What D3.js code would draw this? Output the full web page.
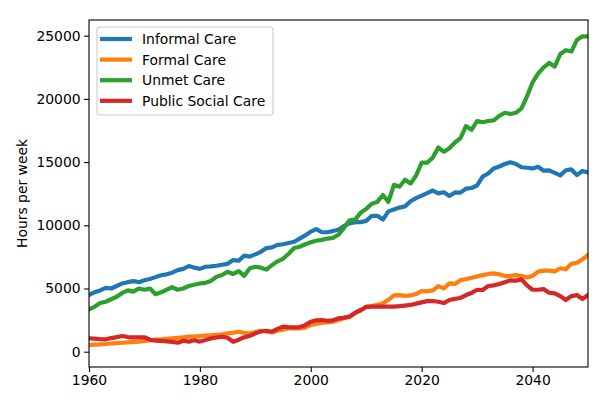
<!DOCTYPE html>
<html>
<head>
<meta charset="utf-8">
<script src="https://cdn.jsdelivr.net/npm/d3@7"></script>
<style>
  body { margin: 0; background: #fff; }
  text { font-family: "DejaVu Sans", sans-serif; }
</style>
</head>
<body>
<div id="chart"></div>
<script>
// yearly series, 1960..2050
var years = d3.range(1960, 2051);

var informalCare = [4500, 4700, 4850, 5050, 5000, 5200, 5400, 5500, 5580, 5500,
  5650, 5750, 5900, 6050, 6120, 6250, 6450, 6550, 6780, 6650,
  6550, 6720, 6750, 6800, 6880, 6950, 7250, 7200, 7600, 7520,
  7700, 7900, 8200, 8250, 8450, 8500, 8600, 8700, 8950, 9200,
  9500, 9700, 9450, 9450, 9550, 9650, 9950, 10150, 10250, 10250,
  10350, 10750, 10750, 10450, 11100, 11250, 11400, 11500, 11900, 12150,
  12350, 12550, 12750, 12530, 12610, 12320, 12600, 12580, 12900, 12950,
  13150, 13850, 14100, 14500, 14650, 14850, 14980, 14850, 14590, 14550,
  14500, 14630, 14320, 14350, 14150, 13950, 14350, 14420, 13980, 14300,
  14180];

var formalCare = [530, 560, 580, 610, 650, 680, 710, 740, 770, 790,
  860, 900, 950, 980, 1020, 1060, 1090, 1140, 1190, 1200,
  1240, 1270, 1300, 1330, 1380, 1450, 1500, 1580, 1500, 1450,
  1550, 1660, 1600, 1530, 1660, 1750, 1850, 1850, 1850, 1900,
  2110, 2200, 2300, 2320, 2370, 2500, 2650, 2750, 3050, 3250,
  3550, 3610, 3700, 3830, 4100, 4450, 4480, 4420, 4450, 4560,
  4800, 4780, 4850, 5180, 5010, 5400, 5360, 5660, 5740, 5850,
  5950, 6060, 6150, 6200, 6120, 5990, 5990, 6070, 5980, 5880,
  5990, 6330, 6410, 6410, 6350, 6600, 6520, 6950, 7040, 7300,
  7650];

var unmetCare = [3350, 3550, 3850, 3950, 4150, 4350, 4650, 4850, 4750, 5000,
  4900, 5000, 4550, 4700, 4900, 5100, 4900, 5000, 5200, 5300,
  5400, 5450, 5600, 5930, 6070, 6330, 6150, 6380, 6000, 6600,
  6720, 6650, 6500, 6850, 7150, 7350, 7750, 8200, 8300, 8500,
  8650, 8780, 8850, 8950, 9000, 9250, 9800, 10400, 10450, 11000,
  11300, 11700, 11850, 12400, 11850, 13200, 13050, 13600, 13300, 13950,
  14950, 14950, 15350, 16150, 15820, 16100, 16550, 16900, 17850, 17550,
  18250, 18150, 18250, 18300, 18650, 18900, 18800, 18900, 19250, 20200,
  21300, 22000, 22500, 22850, 22550, 23550, 23850, 23750, 24650, 24950,
  24950];

var publicSocialCare = [1060, 1040, 1000, 980, 1080, 1150, 1240, 1160, 1140, 1140,
  1140, 950, 870, 850, 820, 780, 710, 870, 800, 900,
  800, 920, 1050, 1120, 1190, 1100, 790, 950, 1140, 1250,
  1450, 1600, 1660, 1580, 1800, 1980, 1950, 1930, 1950, 2100,
  2370, 2490, 2510, 2450, 2480, 2640, 2700, 2780, 3090, 3300,
  3550, 3560, 3560, 3560, 3560, 3560, 3600, 3650, 3700, 3800,
  3900, 4000, 4010, 3950, 3850, 4090, 4180, 4250, 4480, 4650,
  4900, 4880, 5200, 5250, 5360, 5500, 5650, 5620, 5730, 5250,
  4900, 4900, 4950, 4670, 4620, 4400, 4090, 4400, 4480, 4170,
  4480];

var seriesNames = ["Informal Care", "Formal Care", "Unmet Care", "Public Social Care"];
var seriesColors = ["#1f77b4", "#ff7f0e", "#2ca02c", "#d62728"];
var seriesValues = [informalCare, formalCare, unmetCare, publicSocialCare];

var xTicks = [1960, 1980, 2000, 2020, 2040];
var yTicks = [0, 5000, 10000, 15000, 20000, 25000];

// set the dimensions and margins
var W = 608, H = 407;
var margin = {top: 20, right: 20, bottom: 40, left: 89},
    width = 588 - margin.left,
    height = 367 - margin.top;

var svg = d3.select("#chart")
  .append("svg")
    .attr("width", W)
    .attr("height", H)
  .append("g")
    .attr("transform", "translate(" + margin.left + "," + margin.top + ")");

var x = d3.scaleLinear().domain([1960, 2050]).range([0, width]);
var y = d3.scaleLinear().domain([-1210, 26240]).range([height, 0]);

svg.append("clipPath").attr("id", "clip")
  .append("rect").attr("width", width).attr("height", height);

// lines
var line = d3.line()
  .x(function(d, i) { return x(years[i]); })
  .y(function(d) { return y(d); });

svg.append("g").attr("clip-path", "url(#clip)")
  .selectAll("path")
  .data(seriesValues)
  .enter().append("path")
    .attr("d", line)
    .attr("fill", "none")
    .attr("stroke", function(d, i) { return seriesColors[i]; })
    .attr("stroke-width", 4.2)
    .attr("stroke-linejoin", "round")
    .attr("stroke-linecap", "square");

// axes
var xAxis = svg.append("g")
  .attr("transform", "translate(0," + height + ")")
  .call(d3.axisBottom(x).tickValues(xTicks).tickFormat(d3.format("d"))
    .tickSize(4.9).tickPadding(3.5));
var yAxis = svg.append("g")
  .call(d3.axisLeft(y).tickValues(yTicks).tickFormat(d3.format("d"))
    .tickSize(4.9).tickPadding(3.5));

[xAxis, yAxis].forEach(function(a) {
  a.select(".domain").remove();
  a.selectAll("line").attr("stroke", "#000").attr("stroke-width", 1.1);
  a.selectAll("text").attr("font-size", "13.9px").attr("fill", "#000")
    .style("font-family", "DejaVu Sans");
});

// frame
svg.append("rect")
  .attr("width", width).attr("height", height)
  .attr("fill", "none").attr("stroke", "#000").attr("stroke-width", 1.1);

// y label
svg.append("text")
  .attr("transform", "translate(" + (22 - margin.left) + "," + (height / 2) + ") rotate(-90)")
  .attr("text-anchor", "middle")
  .attr("dominant-baseline", "central")
  .attr("font-size", "13.9px")
  .text("Hours per week");

// legend
var legend = svg.append("g").attr("transform", "translate(" + (97 - margin.left) + "," + (27 - margin.top) + ")");
legend.append("rect")
  .attr("width", 176).attr("height", 88)
  .attr("rx", 3)
  .attr("fill", "#fff").attr("fill-opacity", 0.8)
  .attr("stroke", "#ccc").attr("stroke-width", 1.1);

var item = legend.selectAll("g.item")
  .data(seriesNames)
  .enter().append("g")
    .attr("class", "item")
    .attr("transform", function(d, i) { return "translate(0," + (12 + i * 20.6) + ")"; });
item.append("line")
  .attr("x1", 3).attr("x2", 35)
  .attr("stroke", function(d, i) { return seriesColors[i]; })
  .attr("stroke-width", 4.2);
item.append("text")
  .attr("x", 45)
  .attr("dy", "0.36em")
  .attr("font-size", "13.9px")
  .text(function(d) { return d; });
</script>
</body>
</html>
